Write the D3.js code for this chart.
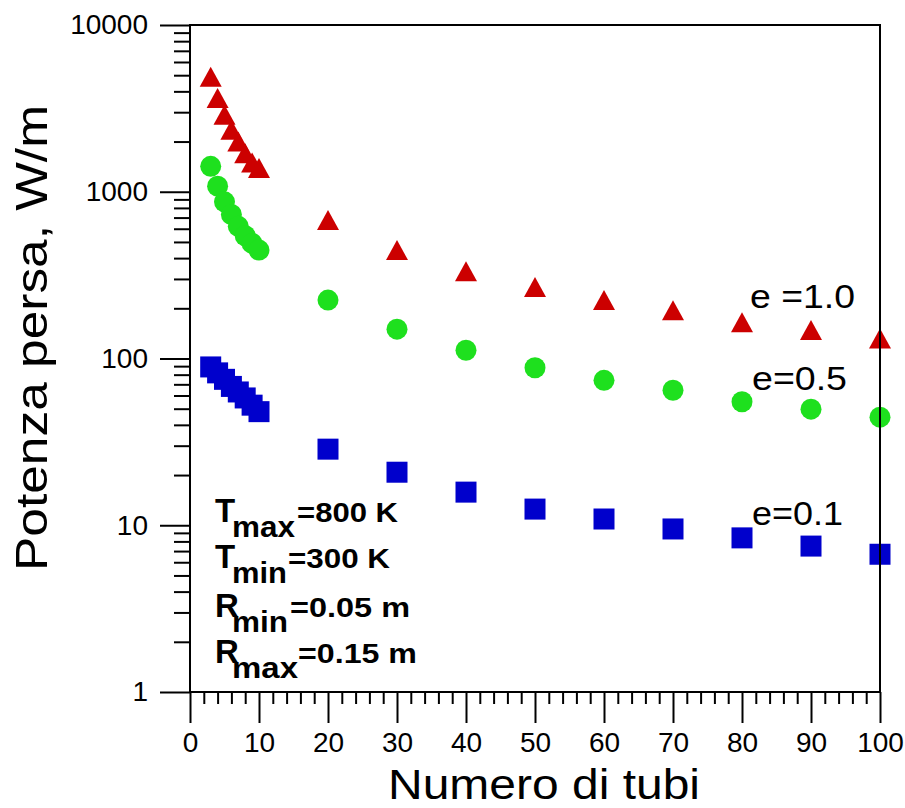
<!DOCTYPE html>
<html>
<head>
<meta charset="utf-8">
<script src="https://cdn.jsdelivr.net/npm/d3@7"></script>
<style>
  body { margin: 0; background: #fff; }
  svg text { font-family: "Liberation Sans", Arial, sans-serif; }
</style>
</head>
<body>
<div id="container"></div>
<script>
// numero di tubi
const tubes = [3, 4, 5, 6, 7, 8, 9, 10, 20, 30, 40, 50, 60, 70, 80, 90, 100];
// potenza persa, W/m
const lossE10 = [4900, 3650, 2900, 2350, 2000, 1700, 1500, 1390, 676, 447, 334, 268, 224, 195, 165, 148, 132];
const lossE05 = [1420, 1080, 870, 730, 620, 545, 490, 447, 224, 150, 112, 88, 74, 64.5, 55, 49.7, 44.5];
const lossE01 = [89, 82, 75, 68, 63, 58, 52.5, 48, 28.6, 20.8, 15.8, 12.5, 10.9, 9.5, 8.4, 7.5, 6.7];

const xMajor = [0, 10, 20, 30, 40, 50, 60, 70, 80, 90, 100];
const yMajor = [1, 10, 100, 1000, 10000];

const width = 905, height = 808;
const margin = {top: 25, right: 25, bottom: 116, left: 190};
const w = width - margin.left - margin.right;
const h = height - margin.top - margin.bottom;

const x = d3.scaleLinear().domain([0, 100]).range([0, w]);
const y = d3.scaleLog().domain([1, 10000]).range([h, 0]);

const svg = d3.select("#container")
  .append("svg")
    .attr("width", width)
    .attr("height", height)
  .append("g")
    .attr("transform", `translate(${margin.left}, ${margin.top})`);

// minor ticks
const yMinor = [];
yMajor.slice(0, -1).forEach(d => { for (let k = 2; k <= 9; k++) yMinor.push(d * k); });
const xMinor = d3.range(0, 101, 2).filter(d => d % 10 !== 0);

svg.append("g")
  .call(d3.axisLeft(y).tickValues(yMinor).tickSize(16).tickSizeOuter(0).tickFormat(""))
  .call(g => g.select(".domain").remove());

svg.append("g")
  .attr("transform", `translate(0,${h})`)
  .call(d3.axisBottom(x).tickValues(xMinor).tickSize(12).tickSizeOuter(0).tickFormat(""))
  .call(g => g.select(".domain").remove());

// series
const red = "#cc0000", green = "#1ee01e", blue = "#0000cc";

const tri = d3.path();
tri.moveTo(0, -10); tri.lineTo(11, 10); tri.lineTo(-11, 10); tri.closePath();

svg.append("g").selectAll("path")
  .data(tubes.map((t, i) => [t, lossE10[i]]))
  .join("path")
    .attr("d", tri.toString())
    .attr("transform", d => `translate(${x(d[0])},${y(d[1])})`)
    .attr("fill", red);

svg.append("g").selectAll("circle")
  .data(tubes.map((t, i) => [t, lossE05[i]]))
  .join("circle")
    .attr("cx", d => x(d[0]))
    .attr("cy", d => y(d[1]))
    .attr("r", 10.5)
    .attr("fill", green);

svg.append("g").selectAll("rect")
  .data(tubes.map((t, i) => [t, lossE01[i]]))
  .join("rect")
    .attr("x", d => x(d[0]) - 10.5)
    .attr("y", d => y(d[1]) - 10.5)
    .attr("width", 21)
    .attr("height", 21)
    .attr("fill", blue);

// frame
svg.append("rect")
  .attr("x", x(0)).attr("y", y(10000))
  .attr("width", x(100) - x(0)).attr("height", y(1) - y(10000))
  .attr("fill", "none").attr("stroke", "#000").attr("stroke-width", 2);

// major ticks + labels
svg.append("g")
  .call(d3.axisLeft(y).tickValues(yMajor).tickSize(30).tickPadding(12).tickSizeOuter(0).tickFormat(d3.format("d")))
  .call(g => g.select(".domain").remove());

svg.append("g")
  .attr("transform", `translate(0,${h})`)
  .call(d3.axisBottom(x).tickValues(xMajor).tickSize(31).tickPadding(9).tickSizeOuter(0))
  .call(g => g.select(".domain").remove());

svg.selectAll(".tick line").attr("stroke-width", 2);
svg.selectAll(".tick text").attr("font-size", 28).attr("fill", "#000")
  .attr("font-family", "Liberation Sans, Arial, sans-serif");

// axis titles
svg.append("text")
  .attr("x", (388 + 700) / 2 - margin.left)
  .attr("y", 799 - margin.top)
  .attr("text-anchor", "middle")
  .attr("font-size", 43)
  .attr("textLength", 312)
  .attr("lengthAdjust", "spacingAndGlyphs")
  .text("Numero di tubi");

svg.append("text")
  .attr("transform", `translate(${47 - margin.left},${338 - margin.top}) rotate(-90)`)
  .attr("text-anchor", "middle")
  .attr("font-size", 45)
  .attr("textLength", 466)
  .attr("lengthAdjust", "spacingAndGlyphs")
  .text("Potenza persa, W/m");

// series labels
const seriesLabels = ["e =1.0", "e=0.5", "e=0.1"];
const seriesLabelAt = [[750, 308, 105], [752, 390, 95], [752, 525, 91]];
seriesLabels.forEach((s, i) => {
  const [lx, ly, lw] = seriesLabelAt[i];
  svg.append("text")
    .attr("x", lx - margin.left).attr("y", ly - margin.top)
    .attr("font-size", 34)
    .attr("textLength", lw)
    .attr("lengthAdjust", "spacingAndGlyphs")
    .text(s);
});

// parameters box
const params = [
  {sym: "T", sub: "max", rest: "=800 K"},
  {sym: "T", sub: "min", rest: "=300 K"},
  {sym: "R", sub: "min", rest: "=0.05 m"},
  {sym: "R", sub: "max", rest: "=0.15 m"}
];
const paramLayout = [
  {base: 522, subW: 63, restX: 297, restW: 101},
  {base: 568, subW: 55, restX: 288, restW: 102},
  {base: 617, subW: 56, restX: 290, restW: 120},
  {base: 663, subW: 66, restX: 298, restW: 119}
];
const pg = svg.append("g")
  .attr("transform", `translate(${-margin.left},${-margin.top})`)
  .attr("font-weight", "bold")
  .attr("fill", "#000");
params.forEach((p, i) => {
  const L = paramLayout[i];
  const t = pg.append("text").attr("x", 215).attr("y", L.base);
  t.append("tspan").attr("font-size", 33).text(p.sym);
  t.append("tspan").attr("x", 232).attr("y", L.base + 15)
    .attr("font-size", 29)
    .attr("textLength", L.subW).attr("lengthAdjust", "spacingAndGlyphs")
    .text(p.sub);
  t.append("tspan").attr("x", L.restX).attr("y", L.base)
    .attr("font-size", 28)
    .attr("textLength", L.restW).attr("lengthAdjust", "spacingAndGlyphs")
    .text(p.rest);
});
</script>
</body>
</html>
